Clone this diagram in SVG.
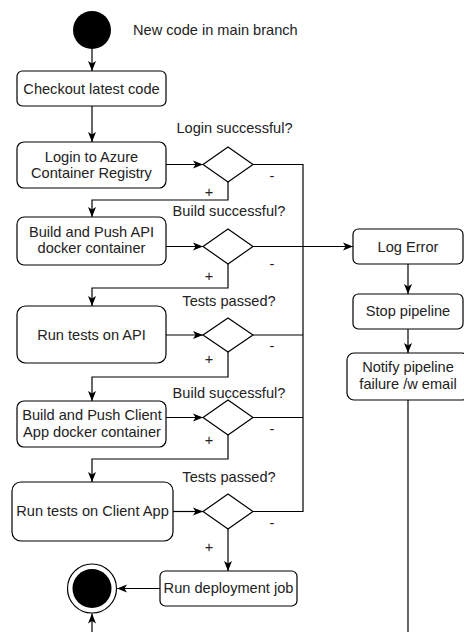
<svg xmlns="http://www.w3.org/2000/svg" width="464" height="632" viewBox="0 0 464 632">
<style>
  .box{fill:#fff;stroke:#000;stroke-width:1.2}
  .dia{fill:#fff;stroke:#000;stroke-width:1.2}
  .edge{fill:none;stroke:#000;stroke-width:1.2}
  text{font-family:"Liberation Sans",Arial,sans-serif;font-size:14.6px;fill:#222}
  .c{text-anchor:middle}
</style>
<defs>
  <marker id="arr" markerUnits="userSpaceOnUse" markerWidth="10" markerHeight="10" viewBox="0 0 10 10" refX="10" refY="5" orient="auto">
    <path d="M0,1 L10,5 L0,9 L2.5,5 z" fill="#000"/>
  </marker>
</defs>
<rect width="464" height="632" fill="#fff"/>
<g id="connectors">
  <path class="edge" d="M92,49 V71" marker-end="url(#arr)"/>
  <path class="edge" d="M92,106 V142" marker-end="url(#arr)"/>
  <path class="edge" d="M166,164.5 H203" marker-end="url(#arr)"/>
  <path class="edge" d="M228,182 V200 H92 V217" marker-end="url(#arr)"/>
  <path class="edge" d="M166,246.5 H203" marker-end="url(#arr)"/>
  <path class="edge" d="M253,246.5 H353" marker-end="url(#arr)"/>
  <path class="edge" d="M228,264 V288 H92 V306" marker-end="url(#arr)"/>
  <path class="edge" d="M166,335 H203" marker-end="url(#arr)"/>
  <path class="edge" d="M228,352 V377 H92 V401" marker-end="url(#arr)"/>
  <path class="edge" d="M166,417.5 H203" marker-end="url(#arr)"/>
  <path class="edge" d="M228,435 V459 H92 V482" marker-end="url(#arr)"/>
  <path class="edge" d="M173,511.5 H203" marker-end="url(#arr)"/>
  <path class="edge" d="M228,529 V571" marker-end="url(#arr)"/>
  <path class="edge" d="M160,588.5 H117" marker-end="url(#arr)"/>
  <path class="edge" d="M253,164.5 H303 V511.5 H253"/>
  <path class="edge" d="M253,335 H303"/>
  <path class="edge" d="M253,417.5 H303"/>
  <path class="edge" d="M408,264 V294" marker-end="url(#arr)"/>
  <path class="edge" d="M408,329 V353" marker-end="url(#arr)"/>
  <path class="edge" d="M408,400 V640"/>
  <path class="edge" d="M92,640 V613.5" marker-end="url(#arr)"/>
</g>
<g id="start">
  <circle cx="92" cy="30" r="19" fill="#000"/>
  <text x="133" y="34.5">New code in main branch</text>
</g>
<g id="checkout">
  <rect class="box" x="17" y="71" width="149" height="35" rx="5.3"/>
  <text class="c" x="91.5" y="93.5">Checkout latest code</text>
</g>
<g id="login">
  <rect class="box" x="17" y="142" width="149" height="46" rx="6.9"/>
  <text class="c" x="91.5" y="162">Login to Azure</text>
  <text class="c" x="91.5" y="178">Container Registry</text>
</g>
<g id="d1">
  <polygon class="dia" points="228,147 253,164.5 228,182 203,164.5"/>
  <text class="c" x="234.5" y="133">Login successful?</text>
  <text class="c" x="272" y="181">-</text>
  <text class="c" x="209" y="197">+</text>
</g>
<g id="buildapi">
  <rect class="box" x="17" y="217" width="149" height="48" rx="7.2"/>
  <text class="c" x="91.5" y="237">Build and Push API</text>
  <text class="c" x="91.5" y="253">docker container</text>
</g>
<g id="d2">
  <polygon class="dia" points="228,229 253,246.5 228,264 203,246.5"/>
  <text class="c" x="229" y="216">Build successful?</text>
  <text class="c" x="272" y="269">-</text>
  <text class="c" x="209" y="281">+</text>
</g>
<g id="testapi">
  <rect class="box" x="17" y="306" width="149" height="57" rx="8.6"/>
  <text class="c" x="91.5" y="340">Run tests on API</text>
</g>
<g id="d3">
  <polygon class="dia" points="228,318 253,335 228,352 203,335"/>
  <text class="c" x="229" y="306">Tests passed?</text>
  <text class="c" x="272" y="351">-</text>
  <text class="c" x="209" y="364">+</text>
</g>
<g id="buildclient">
  <rect class="box" x="17" y="401" width="149" height="46" rx="6.9"/>
  <text class="c" x="92" y="420">Build and Push Client</text>
  <text class="c" x="92" y="437">App docker container</text>
</g>
<g id="d4">
  <polygon class="dia" points="228,400 253,417.5 228,435 203,417.5"/>
  <text class="c" x="229" y="398">Build successful?</text>
  <text class="c" x="272" y="434">-</text>
  <text class="c" x="209" y="445">+</text>
</g>
<g id="testclient">
  <rect class="box" x="12" y="482" width="161" height="59" rx="8.9"/>
  <text class="c" x="92.5" y="516">Run tests on Client App</text>
</g>
<g id="d5">
  <polygon class="dia" points="228,494 253,511.5 228,529 203,511.5"/>
  <text class="c" x="229" y="482">Tests passed?</text>
  <text class="c" x="272" y="528">-</text>
  <text class="c" x="209" y="552">+</text>
</g>
<g id="deploy">
  <rect class="box" x="160" y="571" width="137" height="35" rx="5.3"/>
  <text class="c" x="228.5" y="593">Run deployment job</text>
</g>
<g id="end">
  <circle cx="92" cy="588.5" r="24.5" fill="#fff" stroke="#000" stroke-width="1.2"/>
  <circle cx="92" cy="588.5" r="19.5" fill="#000"/>
</g>
<g id="logerror">
  <rect class="box" x="353" y="229" width="110" height="35" rx="5.3"/>
  <text class="c" x="408" y="252">Log Error</text>
</g>
<g id="stop">
  <rect class="box" x="353" y="294" width="110" height="35" rx="5.3"/>
  <text class="c" x="408" y="316">Stop pipeline</text>
</g>
<g id="notify">
  <rect class="box" x="347" y="353" width="122" height="47" rx="7"/>
  <text class="c" x="408" y="372">Notify pipeline</text>
  <text class="c" x="408" y="389">failure /w email</text>
</g>
</svg>
